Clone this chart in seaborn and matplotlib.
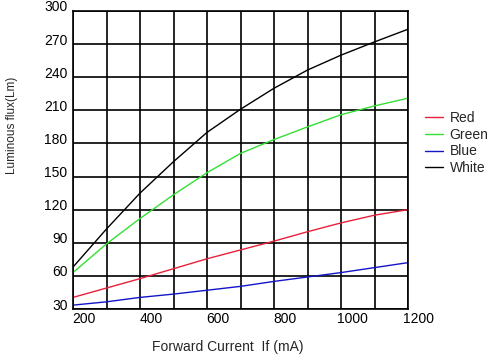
import numpy as np
import pandas as pd
import matplotlib
matplotlib.use("Agg")
import matplotlib.pyplot as plt
import matplotlib.transforms as mtransforms
import seaborn as sns

# Forward current (mA) and luminous flux (Lm)
current = [200, 300, 400, 500, 600, 700, 800, 900, 1000, 1100, 1200]
red = [40.5, 49, 57.5, 66.5, 75.5, 83.5, 91.5, 100, 108, 115, 120]
green = [63, 89, 112, 133.5, 153.5, 171, 183.5, 195, 206, 214, 221]
blue = [33.5, 36.5, 40.5, 43.5, 47, 50.5, 55, 59, 63, 67.5, 72]
white = [68, 102.5, 135, 163.5, 190, 211, 230, 246.5, 260, 272, 283.5]

series_names = ["Red", "Green", "Blue", "White"]
colors = ["#e8203a", "#33e033", "#1414c8", "#000000"]

x_ticks = [200, 400, 600, 800, 1000, 1200]
y_ticks = [30, 60, 90, 120, 150, 180, 210, 240, 270, 300]

df = pd.concat([
    pd.DataFrame({"current": current, "flux": vals, "color": name})
    for name, vals in zip(series_names, [red, green, blue, white])
], ignore_index=True)

sns.set_style("white")
plt.rcParams["font.family"] = ["Liberation Sans", "DejaVu Sans"]

fig = plt.figure(figsize=(4.95, 3.56), dpi=100)
ax = fig.add_axes([73 / 495, 1 - 309 / 356, (408 - 73) / 495, (309 - 11) / 356])

sns.lineplot(data=df, x="current", y="flux", hue="color",
             palette=dict(zip(series_names, colors)), linewidth=1.0, ax=ax)

ax.set_xlim(200, 1200)
ax.set_ylim(30, 300)
ax.set_xticks(range(200, 1201, 100), minor=True)
ax.set_xticks(x_ticks)
ax.set_xticklabels([str(t) for t in x_ticks])
ax.set_yticks(y_ticks)
ax.set_yticklabels([str(t) for t in y_ticks])
ax.grid(True, which="both", color="black", linewidth=1.2)
ax.set_axisbelow(True)
ax.tick_params(axis="both", which="both", length=0, labelsize=10, colors="black")
ax.tick_params(axis="x", pad=2)
ax.tick_params(axis="y", pad=4)
for s in ax.spines.values():
    s.set_color("black")
    s.set_linewidth(1.2)

# labels on the original sit a little off their grid lines
dx = mtransforms.ScaledTranslation(11 / 100, 0, fig.dpi_scale_trans)
for lab in ax.get_xticklabels():
    lab.set_transform(lab.get_transform() + dx)
dy = mtransforms.ScaledTranslation(0, 5 / 100, fig.dpi_scale_trans)
for lab in ax.get_yticklabels():
    lab.set_transform(lab.get_transform() + dy)

ax.set_xlabel("Forward Current  If (mA)", fontsize=10)
ax.xaxis.set_label_coords((228 - 73) / 335, (309 - 340) / 298)
ax.set_ylabel("Luminous flux(Lm)", fontsize=8.5)
ax.yaxis.set_label_coords((18 - 73) / 335, (309 - 125.5) / 298)

leg = ax.legend(loc="center left", bbox_to_anchor=(1.05, 0.557), frameon=False,
                fontsize=10, handlelength=1.3, handletextpad=0.5,
                labelspacing=0.2, borderaxespad=0, borderpad=0)
for line in leg.get_lines():
    line.set_linewidth(1.0)

fig.savefig("out.png", dpi=100, facecolor="white")
